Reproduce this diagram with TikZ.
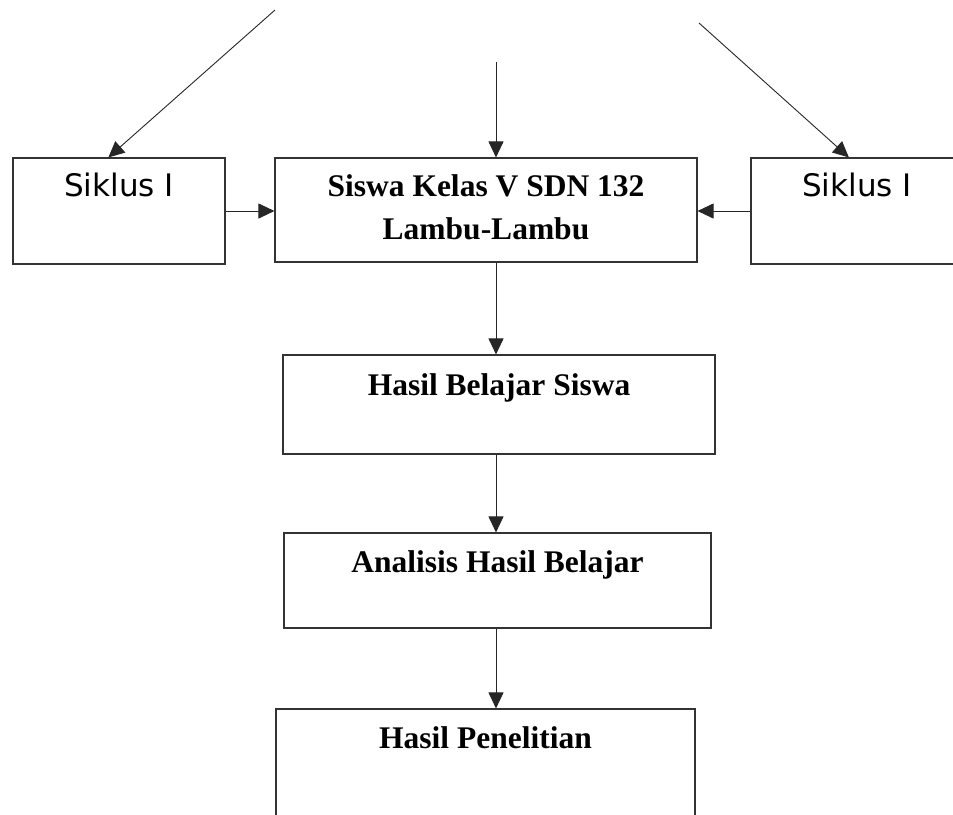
\documentclass[tikz,border=0pt]{standalone}
\usepackage{fontspec}
\setmainfont{Liberation Serif}
\newfontfamily\sansfam{DejaVu Sans}
\usetikzlibrary{arrows.meta,calc}
\begin{document}
\begin{tikzpicture}[x=1pt,y=-1pt,
  boxst/.style={draw=black!80,line width=1.1pt,fill=none,inner sep=0pt,rectangle},
  arr/.style={draw=black!85,line width=0.9pt,-{Triangle[length=16pt,width=15pt]}},
  sanslbl/.style={font=\sansfam\fontsize{31}{37}\selectfont,anchor=base,inner sep=0pt},
  serlbl/.style={font=\bfseries\fontsize{31.5}{43}\selectfont,anchor=base,inner sep=0pt}]
\useasboundingbox (0,0) rectangle (953,814);
\clip (0,0) rectangle (953,814);
% boxes
\node[boxst,minimum width=212pt,minimum height=106pt] (L) at (119,211) {};
\node[boxst,minimum width=422pt,minimum height=104pt] (C) at (486,210) {};
\node[boxst,minimum width=212pt,minimum height=106pt] (R) at (857,211) {};
\node[boxst,minimum width=432pt,minimum height=99pt] (HB) at (499,404.5) {};
\node[boxst,minimum width=427pt,minimum height=95pt] (AH) at (497.5,580.5) {};
\node[boxst,minimum width=419pt,minimum height=111pt] (HP) at (485.5,764.5) {};
% texts
\node[sanslbl] (tL) at ($(L.north)+(0,39)$) {Siklus I};
\node[sanslbl] (tR) at ($(R.north)+(0,39)$) {Siklus I};
\node[serlbl] (tC1) at ($(C.north)+(0,39)$) {Siswa Kelas V SDN 132};
\node[serlbl] (tC2) at ($(C.north)+(0,82)$) {Lambu-Lambu};
\node[serlbl] (tHB) at ($(HB.north)+(0,41)$) {Hasil Belajar Siswa};
\node[serlbl] (tAH) at ($(AH.north)+(0,40)$) {Analisis Hasil Belajar};
\node[serlbl] (tHP) at ($(HP.north)+(0,40)$) {Hasil Penelitian};
% free ends
\coordinate (sL) at (275,10);
\coordinate (sR) at (699,23);
\coordinate (sT) at (496,62);
\coordinate (ax) at (496,0);
% connectors
\draw[arr] (sL) -- ($(L.north west)!0.45!(L.north east)$);
\draw[arr] (sR) -- ($(R.north west)!0.462!(R.north east)$);
\draw[arr] (sT) -- (C.north -| ax);
\draw[arr] (L.east) -- (L.east -| C.west);
\draw[arr] (R.west) -- (R.west -| C.east);
\draw[arr] (C.south -| ax) -- (HB.north -| ax);
\draw[arr] (HB.south -| ax) -- (AH.north -| ax);
\draw[arr] (AH.south -| ax) -- (HP.north -| ax);
\end{tikzpicture}
\end{document}
